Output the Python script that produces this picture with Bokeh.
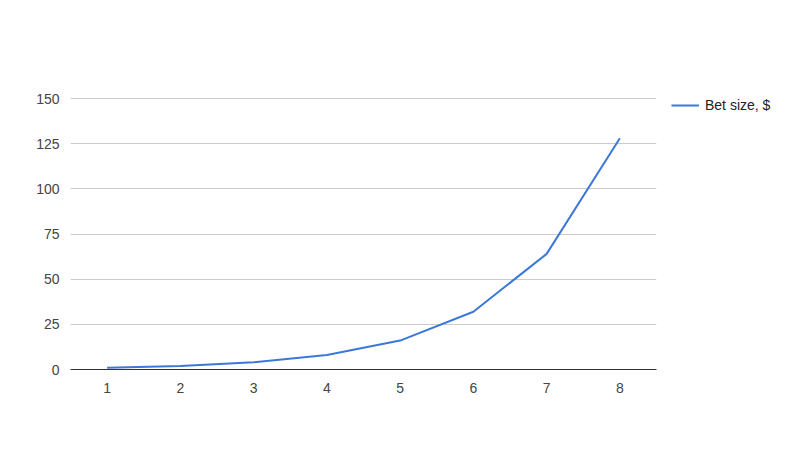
from bokeh.plotting import figure
from bokeh.models import Range1d, FixedTicker, Legend, LegendItem, ColumnDataSource
from bokeh.embed import file_html
from bokeh.resources import INLINE

steps = [1, 2, 3, 4, 5, 6, 7, 8]
bet_size = [1, 2, 4, 8, 16, 32, 64, 128]
y_ticks = [0, 25, 50, 75, 100, 125, 150]
series_name = "Bet size, $"

src = ColumnDataSource(dict(x=steps, y=bet_size))

p = figure(width=800, height=449, output_backend="svg", toolbar_location=None,
           x_range=Range1d(0.5, 8.5), y_range=Range1d(0, 150.6),
           frame_width=586, frame_height=272,
           min_border_left=70, min_border_top=97, min_border_bottom=80, min_border_right=10)
p.outline_line_color = None
p.background_fill_color = "white"
p.border_fill_color = "white"

r = p.line("x", "y", source=src, line_color="#3c78d8", line_width=2)

p.xaxis.ticker = FixedTicker(ticks=steps)
p.yaxis.ticker = FixedTicker(ticks=y_ticks)
p.xgrid.grid_line_color = None
p.ygrid.grid_line_color = "#cccccc"
p.ygrid.grid_line_width = 1

for ax in (p.xaxis[0], p.yaxis[0]):
    ax.major_tick_line_color = None
    ax.minor_tick_line_color = None
    ax.major_label_text_font = "Liberation Sans"
    ax.major_label_text_font_size = "14px"
    ax.major_label_text_color = "#444444"
p.yaxis.axis_line_color = None
p.yaxis.major_label_standoff = 5
p.xaxis.axis_line_color = "#333333"
p.xaxis.axis_line_width = 1
p.xaxis.major_label_standoff = 7

legend = Legend(items=[LegendItem(label=series_name, renderers=[r])],
                border_line_color=None,
                background_fill_alpha=0, label_text_font="Liberation Sans",
                label_text_font_size="14px", label_text_color="#222222",
                glyph_width=28, label_standoff=6, margin=0, padding=0)
p.add_layout(legend, "right")
legend.location = (15, 254)

open("out.html", "w").write(file_html(p, INLINE))
